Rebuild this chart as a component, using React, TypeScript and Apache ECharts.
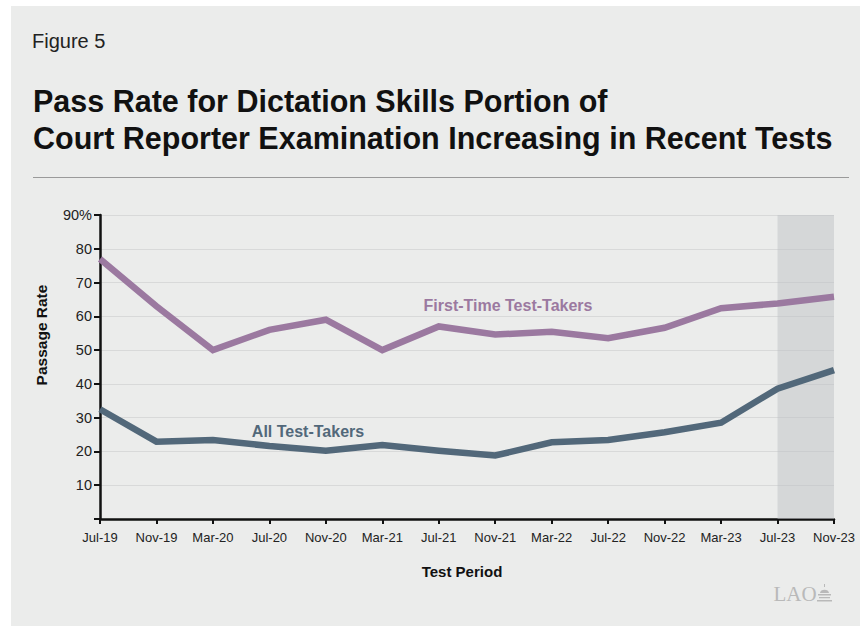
import React, { useEffect, useRef } from "react";
import * as echarts from "echarts";

// Test periods (x axis categories)
const periods = [
  "Jul-19", "Nov-19", "Mar-20", "Jul-20", "Nov-20", "Mar-21", "Jul-21",
  "Nov-21", "Mar-22", "Jul-22", "Nov-22", "Mar-23", "Jul-23", "Nov-23",
];

// Pass rates (percent)
const firstTimeTakers = [77, 63, 50, 56, 59, 50, 57, 54.6, 55.4, 53.5, 56.6, 62.4, 63.8, 65.8];
const allTestTakers = [32.5, 22.9, 23.4, 21.6, 20.2, 21.9, 20.2, 18.8, 22.7, 23.4, 25.7, 28.5, 38.6, 44.1];

// Highlighted (most recent) periods
const shadedFrom = "Jul-23";
const shadedTo = "Nov-23";

const yMin = 0;
const yMax = 90;
const yStep = 10;

const FONT = "'Liberation Sans', Arial, Helvetica, sans-serif";
const PURPLE = "#9b79a0";
const SLATE = "#52687a";

const domeIcon =
  "M7 0 L8 0 L8 3 L7 3 Z M3 9 C3 4.5 12 4.5 12 9 Z M1 10 L14 10 L14 11.5 L1 11.5 Z M2 13 L13 13 L13 14.2 L2 14.2 Z M0 16 L15 16 L15 17.5 L0 17.5 Z";

let registered = false;

export default function App() {
  const ref = useRef<HTMLDivElement>(null);

  useEffect(() => {
    if (!ref.current) return;
    if (!registered) {
      echarts.graphic.registerShape("laodome", echarts.graphic.extendPath(domeIcon, {}));
      registered = true;
    }
    const chart = echarts.init(ref.current, null, { renderer: "svg" });
    chart.setOption({
      animation: false,
      backgroundColor: "#ffffff",
      textStyle: { fontFamily: FONT },
      grid: { left: 100, right: 26, top: 215, bottom: 107, containLabel: false },
      xAxis: {
        type: "category",
        data: periods,
        boundaryGap: false,
        axisLine: { show: true, lineStyle: { color: "#111", width: 2.5 } },
        axisTick: { show: true, length: 5, lineStyle: { color: "#111", width: 2 } },
        axisLabel: { color: "#222", fontSize: 13, margin: 12, interval: 0, fontFamily: FONT },
        splitLine: { show: false },
      },
      yAxis: {
        type: "value",
        min: yMin,
        max: yMax,
        interval: yStep,
        axisLine: { show: true, lineStyle: { color: "#111", width: 2.5 } },
        axisTick: { show: true, length: 6, lineStyle: { color: "#111", width: 2 } },
        axisLabel: {
          color: "#222",
          fontSize: 14.5,
          margin: 8,
          fontFamily: FONT,
          formatter: (v: number) => (v === yMax ? `${v}%` : v === yMin ? "" : String(v)),
        },
        splitLine: { show: true, lineStyle: { color: "#d8d9d9", width: 1 } },
      },
      series: [
        {
          name: "First-Time Test-Takers",
          type: "line",
          data: firstTimeTakers,
          showSymbol: false,
          silent: true,
          lineStyle: { color: PURPLE, width: 6.5, join: "miter" },
          z: 3,
          markArea: {
            silent: true,
            itemStyle: { color: "rgba(190,192,196,0.47)" },
            data: [[{ xAxis: shadedFrom }, { xAxis: shadedTo }]],
          },
        },
        {
          name: "All Test-Takers",
          type: "line",
          data: allTestTakers,
          showSymbol: false,
          silent: true,
          lineStyle: { color: SLATE, width: 6.5, join: "miter" },
          z: 3,
        },
      ],
      graphic: [
        {
          type: "rect",
          z: -10,
          silent: true,
          shape: { x: 11, y: 6, width: 849, height: 620 },
          style: { fill: "#ebeceb" },
        },
        {
          type: "text",
          x: 32,
          y: 41,
          style: { text: "Figure 5", font: `20px ${FONT}`, fill: "#222", align: "left", verticalAlign: "middle" },
        },
        {
          type: "text",
          x: 33,
          y: 101,
          style: {
            text: "Pass Rate for Dictation Skills Portion of",
            font: `bold 30.5px ${FONT}`,
            fill: "#111",
            align: "left",
            verticalAlign: "middle",
          },
        },
        {
          type: "text",
          x: 33,
          y: 138,
          style: {
            text: "Court Reporter Examination Increasing in Recent Tests",
            font: `bold 30.5px ${FONT}`,
            fill: "#111",
            align: "left",
            verticalAlign: "middle",
          },
        },
        {
          type: "line",
          shape: { x1: 33, y1: 177.5, x2: 849, y2: 177.5 },
          style: { stroke: "#9a9a9a", lineWidth: 1 },
        },
        {
          type: "text",
          x: 508,
          y: 305,
          z: 5,
          style: {
            text: "First-Time Test-Takers",
            font: `bold 16px ${FONT}`,
            fill: PURPLE,
            align: "center",
            verticalAlign: "middle",
          },
        },
        {
          type: "text",
          x: 308,
          y: 431,
          z: 5,
          style: {
            text: "All Test-Takers",
            font: `bold 16px ${FONT}`,
            fill: SLATE,
            align: "center",
            verticalAlign: "middle",
          },
        },
        {
          type: "text",
          x: 41,
          y: 335,
          rotation: Math.PI / 2,
          style: {
            text: "Passage Rate",
            font: `bold 15.5px ${FONT}`,
            fill: "#111",
            align: "center",
            verticalAlign: "middle",
          },
        },
        {
          type: "text",
          x: 462,
          y: 571,
          style: {
            text: "Test Period",
            font: `bold 15px ${FONT}`,
            fill: "#111",
            align: "center",
            verticalAlign: "middle",
          },
        },
        {
          type: "text",
          x: 795,
          y: 594,
          style: {
            text: "LAO",
            font: `21px 'Liberation Serif', 'DejaVu Serif', serif`,
            fill: "#b9b9b9",
            align: "center",
            verticalAlign: "middle",
          },
        },
        {
          type: "laodome",
          x: 817,
          y: 584,
          scaleX: 1,
          scaleY: 1,
          style: { fill: "#b9b9b9" },
        },
      ],
    });
    return () => chart.dispose();
  }, []);

  return (
    <div
      ref={ref}
      style={{ position: "absolute", left: 0, top: 0, width: 860, height: 626 }}
    />
  );
}
